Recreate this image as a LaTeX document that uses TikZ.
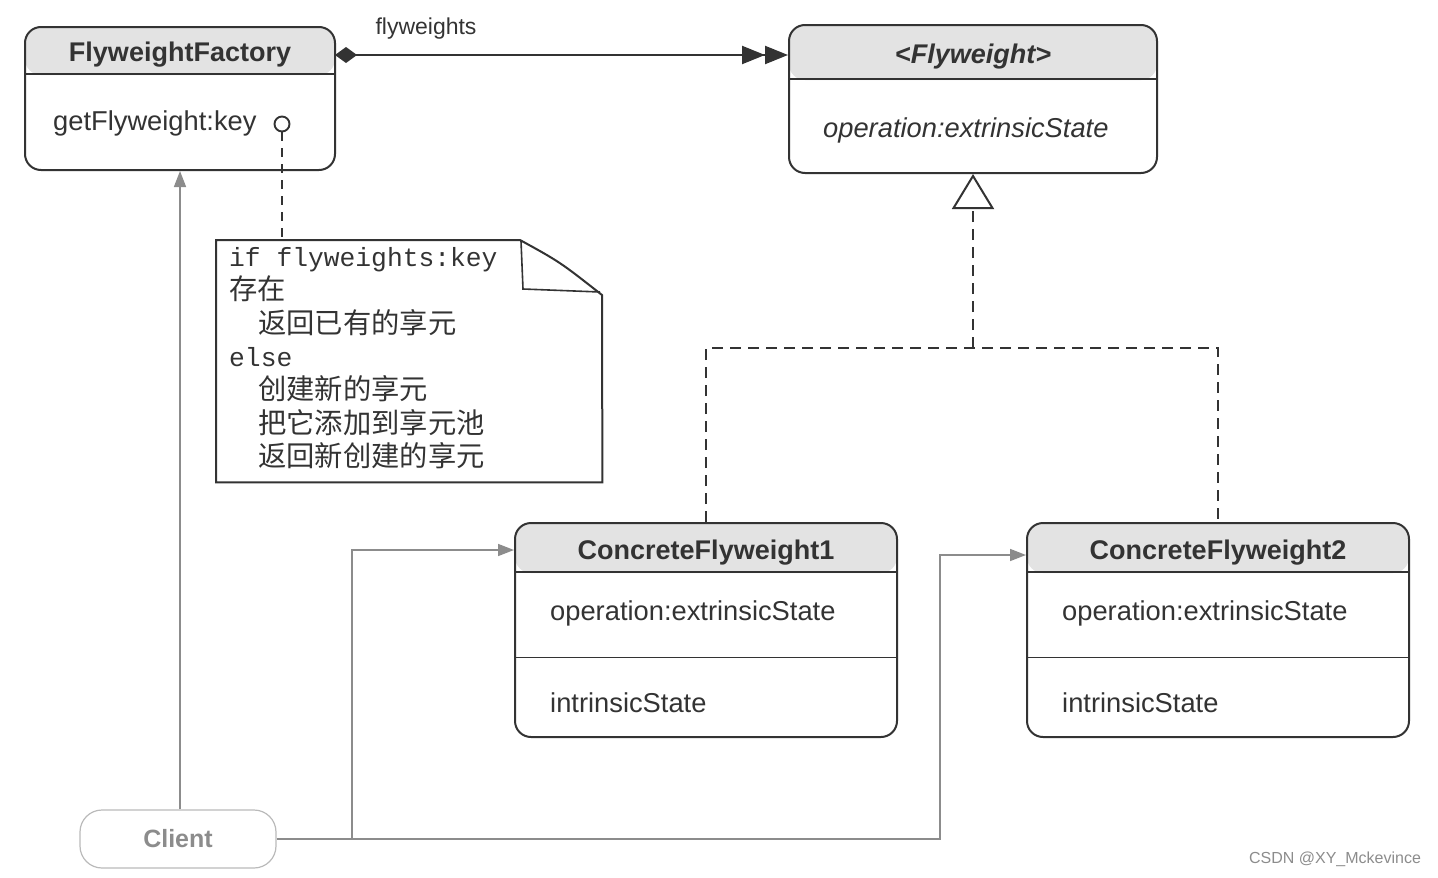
\documentclass[tikz,border=0pt]{standalone}
\usepackage{fontspec}
\setmainfont{Liberation Sans}
\newfontfamily\monof{Liberation Mono}
\newfontfamily\cjk{Noto Sans CJK SC}
\usetikzlibrary{arrows.meta}
\definecolor{ink}{HTML}{333333}
\definecolor{hdr}{HTML}{E3E3E3}
\definecolor{faint}{HTML}{8C8C8C}
\begin{document}
\begin{tikzpicture}[x=1pt,y=-1pt,
  font=\fontsize{27.3}{32}\selectfont,
  umlbox/.style={draw=ink, line width=2pt, rounded corners=16pt, inner sep=0pt, fill=white},
  hdrbox/.style={umlbox, path picture={\fill[hdr] (path picture bounding box.north west) rectangle ([yshift=-#1pt]path picture bounding box.north east);}},
  divider/.style={draw=ink, line width=1.5pt},
  title/.style={font=\fontsize{27}{32}\selectfont\bfseries, text=ink, inner sep=0pt},
  member/.style={text=ink, inner sep=0pt, anchor=west},
  flow/.style={draw=faint, line width=1.6pt, -{Triangle[length=16pt,width=12pt]}},
  assoc/.style={draw=ink, line width=2.2pt, {Diamond[length=22pt,width=16pt]}-{Triangle[length=23pt,width=18pt]Triangle[length=23pt,width=18pt]}},
  realize/.style={draw=ink, line width=2.6pt, dash pattern=on 11pt off 7pt},
]
\useasboundingbox (0,0) rectangle (1438,878);

% boxes
\node[hdrbox=48, minimum width=310pt, minimum height=143pt] (ff) at (180,98.5) {};
\draw[divider] ([yshift=-48pt]ff.north west) -- ([yshift=-48pt]ff.north east);
\node[title] (fft) at (180,55) {FlyweightFactory};
\node[member] (ffm) at (53,123) {getFlyweight:key};
\node[circle, draw=ink, line width=1.9pt, minimum size=15pt, inner sep=0pt] (port) at (282,124) {};

\node[hdrbox=55, minimum width=368pt, minimum height=148pt] (fw) at (973,99) {};
\draw[divider] ([yshift=-55pt]fw.north west) -- ([yshift=-55pt]fw.north east);
\node[title, font=\fontsize{27}{32}\selectfont\bfseries\itshape] (fwt) at (973,57) {<Flyweight>};
\node[member, font=\fontsize{27.3}{32}\selectfont\itshape] (fwm) at (823,130) {operation:extrinsicState};

\node[hdrbox=50, minimum width=382pt, minimum height=214pt] (cf1) at (706,630) {};
\draw[divider] ([yshift=-50pt]cf1.north west) -- ([yshift=-50pt]cf1.north east);
\draw[divider, line width=1pt] ([yshift=-135pt]cf1.north west) -- ([yshift=-135pt]cf1.north east);
\node[title] (cf1t) at (706,553) {ConcreteFlyweight1};
\node[member] (cf1m) at (550,613) {operation:extrinsicState};
\node[member] (cf1a) at (550,703) {intrinsicState};

\node[hdrbox=50, minimum width=382pt, minimum height=214pt] (cf2) at (1218,630) {};
\draw[divider] ([yshift=-50pt]cf2.north west) -- ([yshift=-50pt]cf2.north east);
\draw[divider, line width=1pt] ([yshift=-135pt]cf2.north west) -- ([yshift=-135pt]cf2.north east);
\node[title] (cf2t) at (1218,553) {ConcreteFlyweight2};
\node[member] (cf2m) at (1062,613) {operation:extrinsicState};
\node[member] (cf2a) at (1062,703) {intrinsicState};

\node[draw=faint!60, line width=1.2pt, rounded corners=22pt, minimum width=196pt, minimum height=58pt, inner sep=0pt,
  font=\fontsize{25}{30}\selectfont\bfseries, text=faint] (client) at (178,839) {Client};

% note
\node[minimum width=386pt, minimum height=242pt, inner sep=0pt, anchor=north west] (note) at (216,240) {};
\draw[ink, line width=2pt] (note.north west) -- (520,240) .. controls (560,262) .. (602,295) -- (note.south east) -- (note.south west) -- cycle;
\draw[ink, line width=1.6pt] (521,241) -- (523,289) -- (600,292);
\node[anchor=north west, align=left, inner sep=0pt, text=ink, font=\fontsize{26.3}{33.4}\selectfont] (notetext) at (229,247)
  {\monof if flyweights:key\\
   \cjk\fontsize{28.3}{33.4}\selectfont 存在\\
   \cjk\fontsize{28.3}{33.4}\selectfont\hspace*{29pt}返回已有的享元\\
   \monof else\\
   \cjk\fontsize{28.3}{33.4}\selectfont\hspace*{29pt}创建新的享元\\
   \cjk\fontsize{28.3}{33.4}\selectfont\hspace*{29pt}把它添加到享元池\\
   \cjk\fontsize{28.3}{33.4}\selectfont\hspace*{29pt}返回新创建的享元};

% connectors
\draw[ink, line width=1.9pt, dash pattern=on 9pt off 7pt] (port.south) -- (port.south |- note.north);

\coordinate (a1) at (335,55);
\draw[assoc] (a1) -- (a1 -| fw.west);
\node[text=ink, font=\fontsize{23}{27}\selectfont, inner sep=0pt] (lbl) at (426,29) {flyweights};

\coordinate (junc) at (973,348);
\draw[realize] (cf1.north) |- (junc) -| (cf2.north);
\draw[realize, -{Triangle[open, length=35pt, width=42pt, line width=2pt, fill=white]}] (junc) -- (fw.south);

\draw[flow] (ff.south |- client.north) -- (ff.south);
\coordinate (j1) at (352,550);
\coordinate (j2) at (940,555);
\draw[flow] (client.east) -| (j2) -- (j2 -| cf2.west);
\draw[flow] (j1 |- client.east) -- (j1) -- (j1 -| cf1.west);

\node[text=black!45, font=\fontsize{16}{19}\selectfont, inner sep=0pt] (wm) at (1335,859) {CSDN @XY\_Mckevince};
\end{tikzpicture}
\end{document}
